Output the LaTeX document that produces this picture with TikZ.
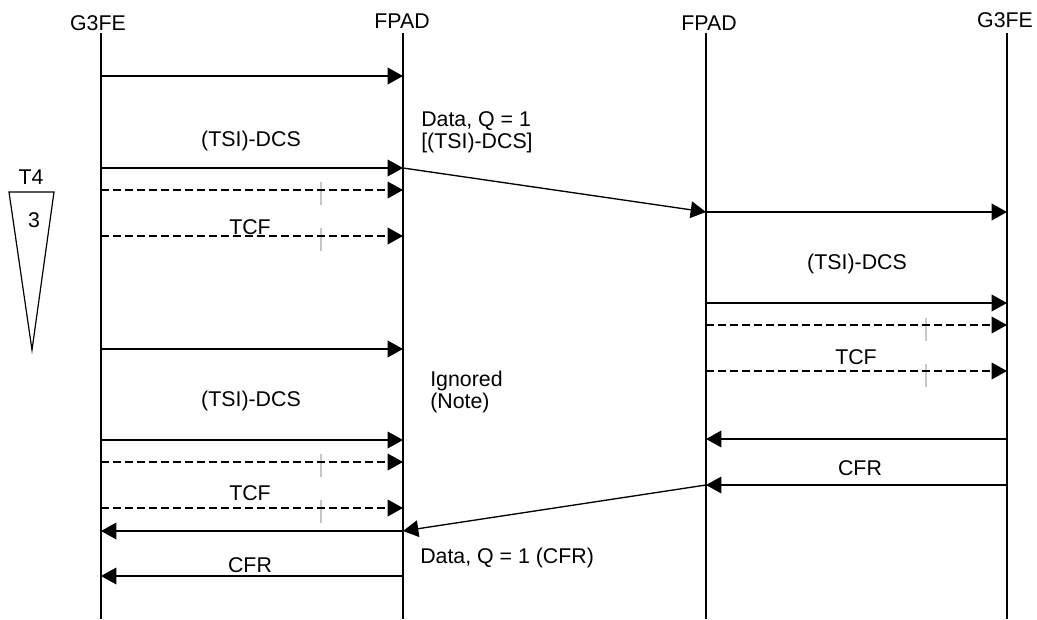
\documentclass[tikz,border=0pt]{standalone}
\usepackage{fontspec}
\setmainfont{Liberation Sans}
\usetikzlibrary{arrows.meta}
\begin{document}
\begin{tikzpicture}[x=0.75pt,y=-0.75pt,
  lbl/.style={font=\fontsize{16}{16.5}\selectfont, inner sep=0pt},
  life/.style={line width=0.9pt},
  msg/.style={line width=1pt,-{Triangle[length=11.5pt,width=12.5pt]}},
  dmsg/.style={msg,dash pattern=on 6pt off 3pt},
  tickm/.style={draw=black!22,line width=0.9pt}]
\useasboundingbox (0,0) rectangle (1037,620);
% headers
\node[lbl] (hA) at (98,23) {G3FE};
\node[lbl] (hB) at (402,21) {FPAD};
\node[lbl] (hC) at (709,23) {FPAD};
\node[lbl] (hD) at (1005,20) {G3FE};
% lifelines
\coordinate (A0) at (101,33); \coordinate (A9) at (101,619);
\coordinate (B0) at (403,33); \coordinate (B9) at (403,619);
\coordinate (C0) at (706,33); \coordinate (C9) at (706,619);
\coordinate (D0) at (1007,33); \coordinate (D9) at (1007,619);
\draw[life] (A0) -- (A9);
\draw[life] (B0) -- (B9);
\draw[life] (C0) -- (C9);
\draw[life] (D0) -- (D9);
% T4 timer
\node[lbl] (t4) at (31,177) {T4};
\coordinate (tl) at (9,192); \coordinate (tr) at (54,192); \coordinate (tb) at (32,350);
\draw[line width=0.9pt] (tl) -- (tr) -- (tb) -- cycle;
\node[lbl] (t3) at (34,220) {3};
% left side messages
\coordinate (a1) at (101,76);  \coordinate (b1) at (403,76);
\coordinate (a2) at (101,168); \coordinate (b2) at (403,168);
\coordinate (a3) at (101,190); \coordinate (b3) at (403,190);
\coordinate (a4) at (101,236); \coordinate (b4) at (403,236);
\coordinate (a5) at (101,349); \coordinate (b5) at (403,349);
\coordinate (a6) at (101,440); \coordinate (b6) at (403,440);
\coordinate (a7) at (101,462); \coordinate (b7) at (403,462);
\coordinate (a8) at (101,508); \coordinate (b8) at (403,508);
\coordinate (a9) at (101,531); \coordinate (b9) at (403,531);
\coordinate (a10) at (101,576); \coordinate (b10) at (403,576);
\draw[msg] (a1) -- (b1);
\node[lbl] (l1) at (251,141) {(TSI)-DCS};
\draw[msg] (a2) -- (b2);
\draw[tickm] (321,182) -- (321,205);
\draw[dmsg] (a3) -- (b3);
\node[lbl] (l2) at (250,227) {TCF};
\draw[tickm] (321,228) -- (321,251);
\draw[dmsg] (a4) -- (b4);
\draw[msg] (a5) -- (b5);
\node[lbl] (l3) at (251,401) {(TSI)-DCS};
\draw[msg] (a6) -- (b6);
\draw[tickm] (321,454) -- (321,477);
\draw[dmsg] (a7) -- (b7);
\node[lbl] (l4) at (250,493) {TCF};
\draw[tickm] (321,500) -- (321,523);
\draw[dmsg] (a8) -- (b8);
\draw[msg] (b9) -- (a9);
\node[lbl] (l5) at (250,565) {CFR};
\draw[msg] (b10) -- (a10);
% right side messages
\coordinate (c1) at (706,212); \coordinate (d1) at (1007,212);
\coordinate (c2) at (706,303); \coordinate (d2) at (1007,303);
\coordinate (c3) at (706,325); \coordinate (d3) at (1007,325);
\coordinate (c4) at (706,371); \coordinate (d4) at (1007,371);
\coordinate (c5) at (706,439); \coordinate (d5) at (1007,439);
\coordinate (c6) at (706,485); \coordinate (d6) at (1007,485);
\draw[msg] (c1) -- (d1);
\node[lbl] (r1) at (857,264) {(TSI)-DCS};
\draw[msg] (c2) -- (d2);
\draw[tickm] (926,318) -- (926,341);
\draw[dmsg] (c3) -- (d3);
\node[lbl] (r2) at (856,357) {TCF};
\draw[tickm] (926,364) -- (926,387);
\draw[dmsg] (c4) -- (d4);
\draw[msg] (d5) -- (c5);
\node[lbl] (r3) at (860,468) {CFR};
\draw[msg] (d6) -- (c6);
% cross messages
\draw[msg] (b2) -- (c1);
\node[lbl,align=left,anchor=west] (x1) at (421,132) {Data, Q = 1\\{}[(TSI)-DCS]};
\node[lbl,align=left,anchor=west] (x2) at (430,392) {Ignored\\(Note)};
\draw[msg] (c6) -- (b9);
\node[lbl,anchor=west] (x3) at (420,558) {Data, Q = 1 (CFR)};
\end{tikzpicture}
\end{document}
